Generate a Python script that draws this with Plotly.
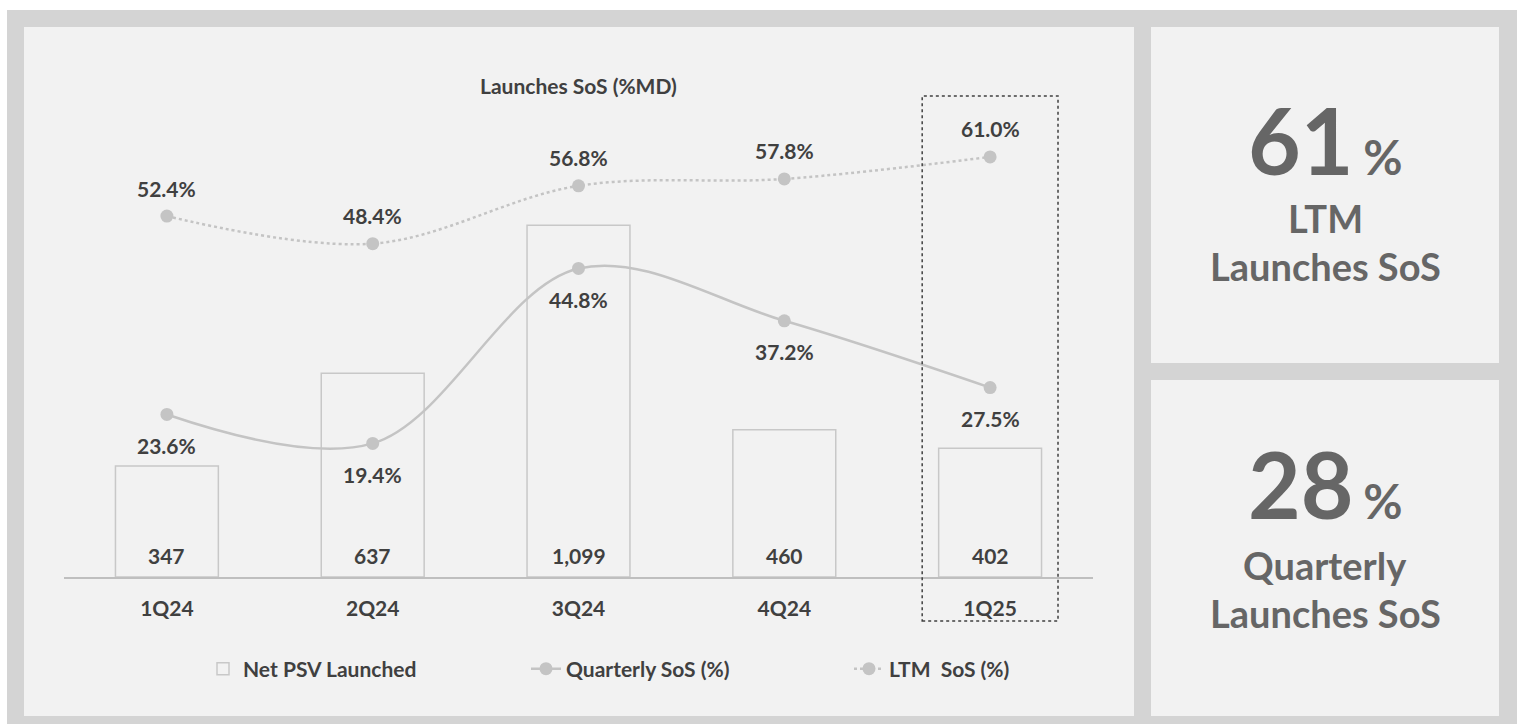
import plotly.graph_objects as go

# ---------------- data ----------------
quarters = ["1Q24", "2Q24", "3Q24", "4Q24", "1Q25"]
net_psv_launched = [347, 637, 1099, 460, 402]
quarterly_sos = [23.6, 19.4, 44.8, 37.2, 27.5]
ltm_sos = [52.4, 48.4, 56.8, 57.8, 61.0]

title_text = "Launches SoS (%MD)"
kpi_ltm = "61"
kpi_quarterly = "28"

# ---------------- style ----------------
W, H = 1517, 724
FONT = "Lato"
DARK = "#404040"
KPI = "#666666"
LINE = "#c4c4c4"
BAR_EDGE = "#c8c8c8"
OUTER = "#d4d4d4"
PANEL = "#f2f2f2"

def px(x):
    return x / W

def py(y):
    return 1 - y / H

plot_top, plot_bottom = 96, 577
bar_scale = 0.32      # px per unit
line_scale = 6.887    # px per %
y_max = (plot_bottom - plot_top) / bar_scale
y2_max = (plot_bottom - plot_top) / line_scale

fig = go.Figure()

fig.add_trace(go.Bar(
    x=quarters, y=net_psv_launched, name="Net PSV Launched",
    width=0.5, marker=dict(color="rgba(0,0,0,0)", line=dict(color=BAR_EDGE, width=1.5)),
    hoverinfo="skip",
))
fig.add_trace(go.Scatter(
    x=quarters, y=quarterly_sos, name="Quarterly SoS (%)", yaxis="y2",
    mode="lines+markers", line=dict(color=LINE, width=2.5, shape="spline", smoothing=1),
    marker=dict(color=LINE, size=13),
))
fig.add_trace(go.Scatter(
    x=quarters, y=ltm_sos, name="LTM  SoS (%)", yaxis="y2",
    mode="lines+markers", line=dict(color=LINE, width=2.5, dash="dot", shape="spline", smoothing=1),
    marker=dict(color=LINE, size=13),
))

annotations = []
lab_font = dict(family=FONT, size=21, color=DARK, weight="bold")
for q, v in zip(quarters, net_psv_launched):
    annotations.append(dict(x=q, y=0, xref="x", yref="y", text=f"{v:,}", showarrow=False,
                            yshift=22, font=lab_font, xanchor="center", yanchor="middle"))
for q, v in zip(quarters, quarterly_sos):
    annotations.append(dict(x=q, y=v, xref="x", yref="y2", text=f"{v:.1f}%", showarrow=False,
                            yshift=-31, font=lab_font, xanchor="center", yanchor="middle"))
for q, v in zip(quarters, ltm_sos):
    annotations.append(dict(x=q, y=v, xref="x", yref="y2", text=f"{v:.1f}%", showarrow=False,
                            yshift=28, font=lab_font, xanchor="center", yanchor="middle"))

def centered(x, y, text, font):
    return dict(x=px(x), y=py(y), xref="paper", yref="paper", text=text, showarrow=False,
                xanchor="center", yanchor="middle", font=font)

annotations.append(centered(578, 86, title_text,
                            dict(family=FONT, size=21, color=DARK, weight="bold")))

# KPI panels
big = dict(family=FONT, size=91, color=KPI, weight="bold")
sub = dict(family=FONT, size=38, color=KPI, weight="bold")
pct = "<span style='font-size:40px'> </span><span style='font-size:48px'>%</span>"
annotations += [
    centered(1325, 139, kpi_ltm + pct, big),
    centered(1325, 218, "LTM", sub),
    centered(1325, 266, "Launches SoS", sub),
    centered(1325, 484, kpi_quarterly + pct, big),
    centered(1325, 565, "Quarterly", sub),
    centered(1325, 613, "Launches SoS", sub),
]

shapes = [
    dict(type="rect", xref="paper", yref="paper", x0=px(7), x1=1, y0=0, y1=py(10),
         fillcolor=OUTER, line=dict(width=0), layer="below"),
    dict(type="rect", xref="paper", yref="paper", x0=px(24), x1=px(1134), y0=py(716), y1=py(27),
         fillcolor=PANEL, line=dict(width=0), layer="below"),
    dict(type="rect", xref="paper", yref="paper", x0=px(1151), x1=px(1499), y0=py(363), y1=py(27),
         fillcolor=PANEL, line=dict(width=0), layer="below"),
    dict(type="rect", xref="paper", yref="paper", x0=px(1151), x1=px(1499), y0=py(716), y1=py(380),
         fillcolor=PANEL, line=dict(width=0), layer="below"),
    dict(type="rect", xref="x", yref="paper", x0=3.67, x1=4.33, y0=py(621), y1=py(96),
         line=dict(color=DARK, width=1.5, dash="dot"), fillcolor="rgba(0,0,0,0)"),
]

fig.update_layout(
    width=W, height=H, autosize=False,
    margin=dict(l=0, r=0, t=0, b=0),
    paper_bgcolor="white", plot_bgcolor="rgba(0,0,0,0)",
    font=dict(family=FONT, color=DARK),
    showlegend=True,
    legend=dict(orientation="h", x=px(203), xanchor="left", y=py(669), yanchor="middle",
                font=dict(family=FONT, size=21, color=DARK, weight="bold"),
                bgcolor="rgba(0,0,0,0)", entrywidth=278, entrywidthmode="pixels",
                traceorder="normal"),
    xaxis=dict(domain=[px(64), px(1093)], range=[-0.5, 4.5], type="category",
               showline=True, linecolor="#bfbfbf", linewidth=1.5, showgrid=False, zeroline=False,
               ticks="", ticklabelstandoff=12,
               tickfont=dict(family=FONT, size=21, color=DARK, weight="bold")),
    yaxis=dict(domain=[py(plot_bottom), py(plot_top)], range=[0, y_max], visible=False,
               showgrid=False, zeroline=False),
    yaxis2=dict(overlaying="y", range=[0, y2_max], visible=False, showgrid=False, zeroline=False),
    annotations=annotations,
    shapes=shapes,
)

fig.write_html(
    "out.html",
    config={"displayModeBar": False},
    post_script="document.body.style.margin='0';document.body.style.overflow='hidden';",
)
